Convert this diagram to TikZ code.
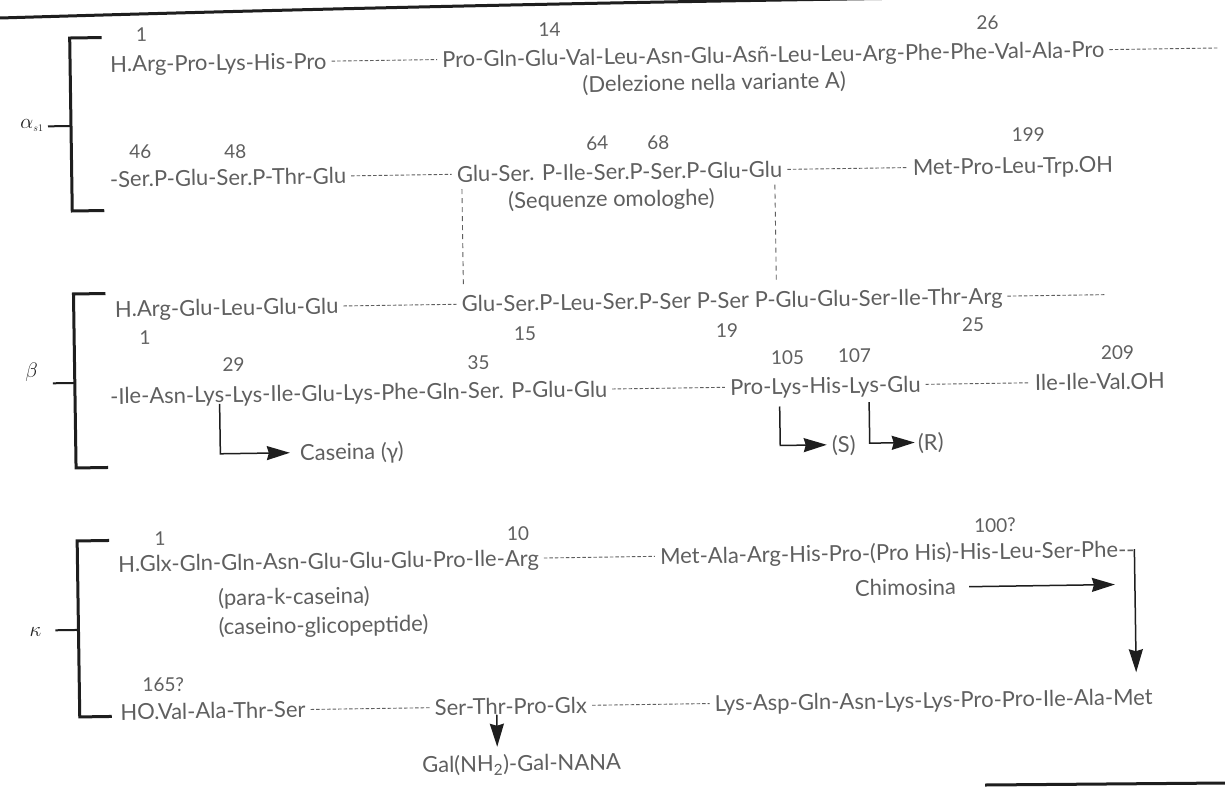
\documentclass[tikz,border=0pt]{standalone}
\usepackage{fontspec}
\setmainfont{Lato}
\usetikzlibrary{arrows.meta}
\definecolor{ink}{RGB}{95,95,95}
\definecolor{rule}{RGB}{30,30,30}
\tikzset{
  seq/.style={anchor=west, inner sep=0pt, text height=15.5pt, text depth=0pt, text=ink,
    font=\fontsize{22}{26}\selectfont},
  num/.style={inner sep=0pt, text=ink, font=\fontsize{19}{23}\selectfont},
  chainlbl/.style={inner sep=0pt, text=rule, font=\fontsize{20}{24}\selectfont},
  gap/.style={draw=ink, line width=0.9pt, dash pattern=on 3.5pt off 2pt,
    shorten <=5pt, shorten >=5pt},
  link/.style={draw=ink, line width=0.9pt, dash pattern=on 5pt off 4pt},
  brace/.style={draw=rule, line width=3pt, line join=miter},
  tick/.style={draw=rule, line width=2pt},
  arr/.style={draw=rule, line width=1.5pt, -{Stealth[length=23pt,width=14pt,inset=2pt]}},
  edge/.style={draw=rule, line width=3pt}
}
\begin{document}
\begin{tikzpicture}[x=1pt,y=-1pt]
\useasboundingbox (0,0) rectangle (1225,787);
\fill[white] (0,0) rectangle (1225,787);
% page edges
\draw[edge] (0,18) .. controls (300,9) and (650,1) .. (1000,-3);
\draw[edge] (985,785) -- (1225,783);

\begin{scope}[rotate around={0.85:(612,393)}, transform shape]
% ---------- alpha s1 ----------
\draw[brace] (107,30) -- (75,30) -- (75,203) -- (107,203);
\draw[tick] (52,118) -- (75,118);
\node[chainlbl] (la) at (36,117) {$\alpha_{\scriptscriptstyle s1}$};

\node[num] (na1) at (147,28) {1};
\node[num] (na14) at (555,29) {14};
\node[num] (na26) at (993,28) {26};
\node[seq] (a1) at (115,57) {H.Arg-Pro-Lys-His-Pro};
\node[seq] (a2) at (447,57) {Pro-Gln-Glu-Val-Leu-Asn-Glu-Asñ-Leu-Leu-Arg-Phe-Phe-Val-Ala-Pro};
\coordinate (a2end) at (1223,57);
\node[seq] (adel) at (587,84) {(Delezione nella variante A)};
\draw[gap] (a1.east) -- (a2.west);
\draw[gap, shorten >=0pt] (a2.east) -- (a2end);

\node[num] (na46) at (144,145) {46};
\node[num] (na48) at (239,146) {48};
\node[num] (na64) at (601,143) {64};
\node[num] (na68) at (662,143) {68};
\node[num] (na199) at (1032,141) {199};
\node[seq] (a3) at (113,172) {-Ser.P-Glu-Ser.P-Thr-Glu};
\node[seq] (a4) at (460,172) {Glu-Ser. P-Ile-Ser.P-Ser.P-Glu-Glu};
\node[seq] (a5) at (916,172) {Met-Pro-Leu-Trp.OH};
\node[seq] (aseq) at (511,199) {(Sequenze omologhe)};
\draw[gap] (a3.east) -- (a4.west);
\draw[gap] (a4.east) -- (a5.west);

% homologous stretches
\coordinate (hlt) at (465,187);
\coordinate (hlb) at (465,283);
\coordinate (hrt) at (778,187);
\coordinate (hrb) at (778,286);
\draw[link] (hlt) -- (hlb);
\draw[link] (hrt) -- (hrb);

% ---------- beta ----------
\draw[brace] (107,286) -- (75,286) -- (75,460) -- (107,460);
\draw[tick] (53,375) -- (75,375);
\node[chainlbl] (lb) at (32,364) {$\beta$};

\node[seq] (b1) at (116,302) {H.Arg-Glu-Leu-Glu-Glu};
\node[seq] (b2) at (463,302) {Glu-Ser.P-Leu-Ser.P-Ser P-Ser P-Glu-Glu-Ser-Ile-Thr-Arg};
\coordinate (b2end) at (1107,302);
\draw[gap] (b1.east) -- (b2.west);
\draw[gap, shorten >=0pt] (b2.east) -- (b2end);
\node[num] (nb1) at (146,331) {1};
\node[num] (nb15) at (526,332) {15};
\node[num] (nb19) at (728,332) {19};
\node[num] (nb25) at (974,330) {25};

\node[num] (nb29) at (234,359) {29};
\node[num] (nb35) at (479,361) {35};
\node[num] (nb105) at (788,360) {105};
\node[num] (nb107) at (855,359) {107};
\node[num] (nb209) at (1118,360) {209};
\node[seq] (b3) at (110,389) {-Ile-Asn-Lys-Lys-Ile-Glu-Lys-Phe-Gln-Ser. P-Glu-Glu};
\node[seq] (b4) at (730,389) {Pro-Lys-His-Lys-Glu};
\node[seq] (b5) at (1035,389) {Ile-Ile-Val.OH};
\draw[gap] (b3.east) -- (b4.west);
\draw[gap] (b4.east) -- (b5.west);

% plasmin cleavage products
\node[seq] (gam) at (299,448) {Caseina (γ)};
\node[seq] (sfr) at (831,448) {(S)};
\node[seq] (rfr) at (917,447) {(R)};
\coordinate (gcut) at (219.5,398);
\coordinate (scut) at (779.5,409);
\coordinate (rcut) at (869,406);
\draw[arr] (gcut) |- ([xshift=-10pt]gam.west);
\draw[arr] (scut) |- ([xshift=-5pt]sfr.west);
\draw[arr] (rcut) |- ([xshift=-3pt]rfr.west);

% ---------- kappa ----------
\draw[brace] (107,533) -- (75,533) -- (75,709) -- (107,709);
\draw[tick] (52,622) -- (75,622);
\node[chainlbl] (lk) at (32,623) {$\kappa$};

\node[num] (nk1) at (158,532) {1};
\node[num] (nk10) at (516,532) {10};
\node[num] (nk100) at (993,531) {100?};
\node[seq] (k1) at (115.5,557) {H.Glx-Gln-Gln-Asn-Glu-Glu-Glu-Pro-Ile-Arg};
\node[seq] (k2) at (657.5,557) {Met-Ala-Arg-His-Pro-(Pro His)-His-Leu-Ser-Phe-{}-};
\draw[gap] (k1.east) -- (k2.west);
\node[seq] (kpara) at (215,592) {(para-k-caseina)};
\node[seq] (kglyco) at (215,621) {(caseino-glicopeptide)};
\node[seq] (chim) at (852,592) {Chimosina};
\draw[arr] ([xshift=13pt]chim.east) -- ([xshift=-20pt]k2.east |- chim.east);
\coordinate (kdowntip) at (1120,680);
\draw[arr] (k2.east) -- (k2.east |- kdowntip);

\node[num] (nk165) at (159,678) {165?};
\node[seq] (k3) at (115.5,705) {HO.Val-Ala-Thr-Ser};
\node[seq] (k4) at (430,705) {Ser-Thr-Pro-Glx};
\node[seq] (k5) at (710,705) {Lys-Asp-Gln-Asn-Lys-Lys-Pro-Pro-Ile-Ala-Met};
\draw[gap] (k3.east) -- (k4.west);
\draw[gap] (k4.east) -- (k5.west);
\node[seq] (gal) at (416.5,762) {Gal(NH\textsubscript{2})-Gal-NANA};
\coordinate (galcut) at (492,713);
\draw[arr, shorten >=9pt] (galcut) -- (galcut |- gal.north);
\end{scope}
\end{tikzpicture}
\end{document}
